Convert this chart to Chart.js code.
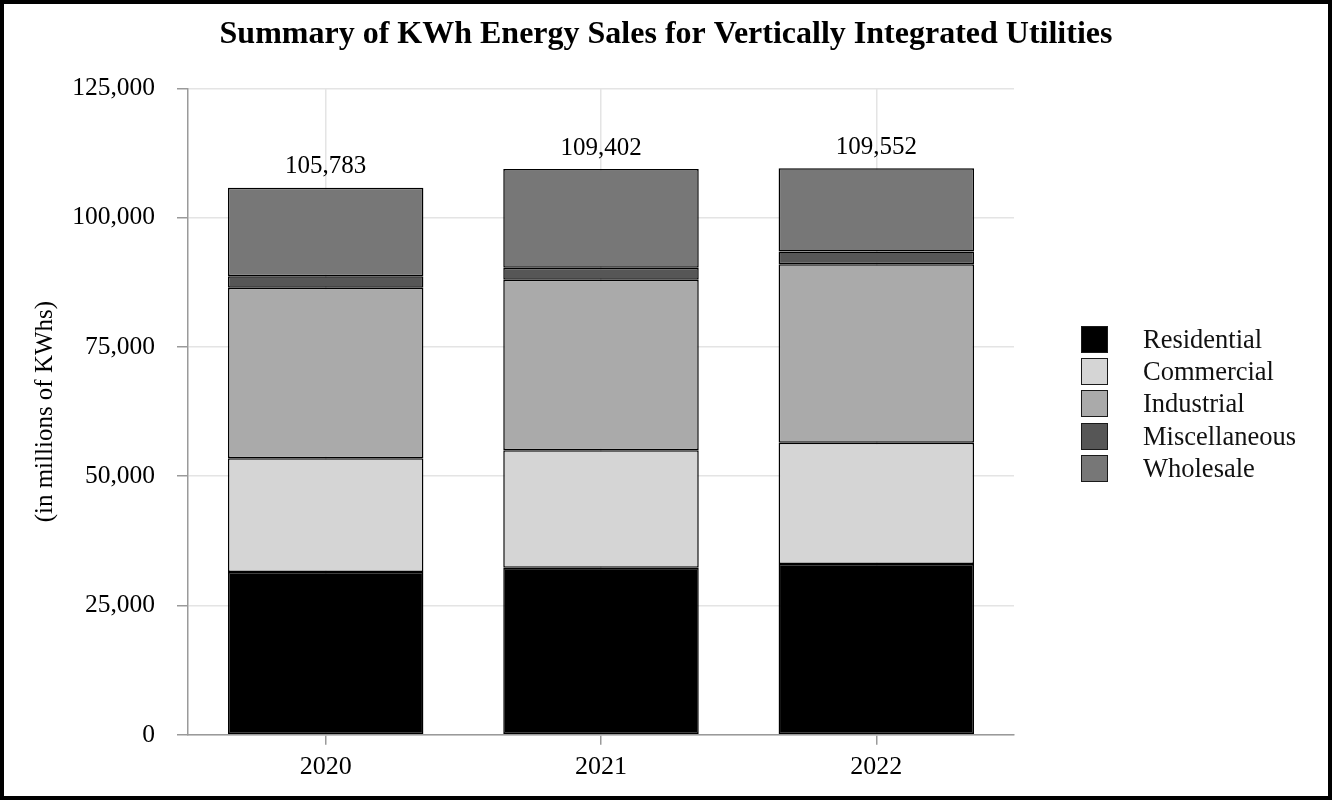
<!DOCTYPE html>
<html>
<head>
<meta charset="utf-8">
<script src="https://cdn.jsdelivr.net/npm/chart.js@4.4.1/dist/chart.umd.min.js"></script>
<style>
  body { margin: 0; background: #fff; }
  #wrap { position: relative; width: 1332px; height: 800px; }
  #wrap::after {
    content: ""; position: absolute; left: 0; top: 0; right: 0; bottom: 0;
    border: 4px solid #000; pointer-events: none;
  }
  #legend {
    position: absolute; left: 1081px; top: 323px;
    font-family: "Liberation Serif", "Times New Roman", serif; font-size: 26.5px; color: #111;
  }
  .row { display: flex; align-items: center; height: 32.4px; }
  .box { width: 25px; height: 25px; border: 1.8px solid #1a1a1a; margin-right: 35px; }
</style>
</head>
<body>
<div id="wrap">
  <canvas id="myChart" width="1332" height="800"></canvas>
  <div id="legend"></div>
</div>
<script>
// millions of KWh
const years = ["2020", "2021", "2022"];
const residential = [31470, 32320, 33020];
const commercial = [21990, 22690, 23470];
const industrial = [32970, 32970, 34510];
const miscellaneous = [2250, 2320, 2470];
const wholesale = [17103, 19102, 16082];
const yTicks = [0, 25000, 50000, 75000, 100000, 125000];

const FONT = "'Liberation Serif', 'Times New Roman', serif";
Chart.defaults.font.family = FONT;
Chart.defaults.color = "#000";

const series = [
  { label: "Residential", data: residential, color: "#000000" },
  { label: "Commercial", data: commercial, color: "#d5d5d5" },
  { label: "Industrial", data: industrial, color: "#aaaaaa" },
  { label: "Miscellaneous", data: miscellaneous, color: "#565656" },
  { label: "Wholesale", data: wholesale, color: "#777777" }
];

// totals printed above each stack
const totalLabels = {
  id: "totalLabels",
  afterDatasetsDraw(chart) {
    const ctx = chart.ctx;
    const y = chart.scales.y;
    const x = chart.scales.x;
    ctx.save();
    ctx.font = "25px " + FONT;
    ctx.fillStyle = "#000";
    ctx.textAlign = "center";
    ctx.textBaseline = "middle";
    for (let i = 0; i < years.length; i++) {
      let sum = 0;
      chart.data.datasets.forEach(ds => { sum += ds.data[i]; });
      ctx.fillText(sum.toLocaleString("en-US"), x.getPixelForValue(i), y.getPixelForValue(sum) - 21);
    }
    ctx.restore();
  }
};

const barCanvas = document.getElementById("myChart");
const barChart = new Chart(barCanvas, {
  type: "bar",
  data: {
    labels: years,
    datasets: series.map(s => ({
      label: s.label,
      data: s.data,
      backgroundColor: s.color,
      borderColor: "#000",
      borderWidth: 1.5,
      borderSkipped: false,
      categoryPercentage: 1,
      barPercentage: 0.71
    }))
  },
  options: {
    responsive: false,
    animation: false,
    layout: {
      padding: { left: 0, right: 0, top: 0, bottom: 10 }
    },
    scales: {
      x: {
        stacked: true,
        offset: true,
        grid: {
          offset: false,
          color: "#e4e4e4",
          lineWidth: 1.5,
          tickColor: "#9a9a9a",
          tickLength: 10
        },
        border: { color: "#9a9a9a", width: 1.5 },
        ticks: { font: { size: 26 }, padding: 7, color: "#000" }
      },
      y: {
        stacked: true,
        min: 0,
        max: 125000,
        afterFit(scale) { scale.width = 188; },
        afterBuildTicks(scale) { scale.ticks = yTicks.map(v => ({ value: v })); },
        grid: {
          color: "#e4e4e4",
          lineWidth: 1.5,
          tickColor: "#9a9a9a",
          tickLength: 11
        },
        border: { color: "#9a9a9a", width: 1.5 },
        ticks: {
          font: { size: 25.5 },
          padding: 22,
          color: "#000",
          callback: v => v.toLocaleString("en-US")
        },
        title: {
          display: true,
          text: "(in millions of KWhs)",
          font: { size: 25 },
          color: "#000",
          padding: { top: 30, bottom: 0 }
        }
      },
      // empty right-hand axis that only holds room for the legend
      legendRoom: {
        type: "linear",
        position: "right",
        display: true,
        afterFit(scale) { scale.width = 1332 - 1014; },
        grid: { display: false, drawOnChartArea: false },
        border: { display: false },
        ticks: { display: false }
      }
    },
    plugins: {
      legend: { display: false },
      tooltip: { enabled: false },
      title: {
        display: true,
        text: "Summary of KWh Energy Sales for Vertically Integrated Utilities",
        color: "#000",
        font: { size: 32, weight: "bold" },
        padding: { top: 16, bottom: 34 }
      }
    }
  },
  plugins: [totalLabels]
});

// legend built from the datasets
const legendEl = document.getElementById("legend");
barChart.data.datasets.forEach(ds => {
  const row = document.createElement("div");
  row.className = "row";
  const box = document.createElement("span");
  box.className = "box";
  box.style.background = ds.backgroundColor;
  const txt = document.createElement("span");
  txt.textContent = ds.label;
  row.appendChild(box);
  row.appendChild(txt);
  legendEl.appendChild(row);
});
</script>
</body>
</html>
